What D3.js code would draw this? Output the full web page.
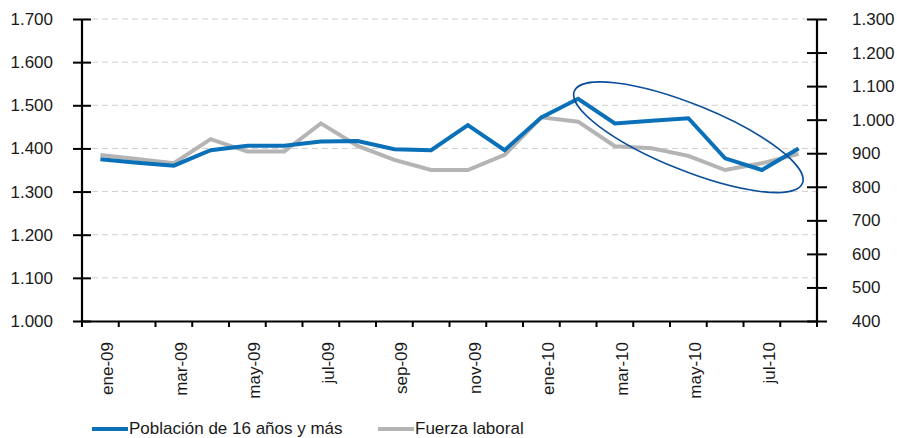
<!DOCTYPE html>
<html>
<head>
<meta charset="utf-8">
<script src="https://cdn.jsdelivr.net/npm/d3@7"></script>
<style>
  body { margin: 0; background: #fff; }
  svg text { font-family: "Liberation Sans", Arial, sans-serif; fill: #1a1a1a; }
</style>
</head>
<body>
<div id="chart"></div>
<script>
const months = ["ene-09","feb-09","mar-09","abr-09","may-09","jun-09","jul-09","ago-09","sep-09","oct-09","nov-09","dic-09",
                "ene-10","feb-10","mar-10","abr-10","may-10","jun-10","jul-10","ago-10"];
// Población de 16 años y más (eje izquierdo)
const poblacion = [1375, 1367, 1360, 1396, 1406, 1406, 1416, 1417, 1398, 1396, 1454, 1396,
                   1472, 1515, 1458, 1464, 1470, 1377, 1350, 1400];
// Fuerza laboral (eje derecho)
const fuerza = [895, 883, 870, 942, 905, 905, 989, 922, 880, 850, 850, 895,
                1007, 994, 921, 915, 892, 850, 870, 898];
const leftTicks = [1000, 1100, 1200, 1300, 1400, 1500, 1600, 1700];
const rightTicks = [400, 500, 600, 700, 800, 900, 1000, 1100, 1200, 1300];
const seriesNames = ["Población de 16 años y más", "Fuerza laboral"];
const colors = ["#0a70b8", "#b4b4b4"];

const W = 897, H = 438;
const m = { left: 82, right: 80, top: 19, bottom: 117 };

const loc = d3.formatLocale({ decimal: ",", thousands: ".", grouping: [3], currency: ["", ""] });
const fmt = loc.format(",d");

const svg = d3.select("#chart").append("svg").attr("width", W).attr("height", H);

const x = d3.scaleBand().domain(months).range([m.left, W - m.right]).padding(0);
const yL = d3.scaleLinear().domain([1000, 1700]).range([H - m.bottom, m.top]);
const yR = d3.scaleLinear().domain([400, 1300]).range([H - m.bottom, m.top]);

// dashed grid
svg.selectAll("line.grid")
  .data(leftTicks.slice(1))
  .enter()
  .append("line")
  .attr("x1", m.left)
  .attr("x2", W - m.right)
  .attr("y1", (d) => yL(d))
  .attr("y2", (d) => yL(d))
  .attr("stroke", "#cfcfcf")
  .attr("stroke-width", 1)
  .attr("stroke-dasharray", "6,4");

// lines
const lineL = d3.line().x((d, i) => x(months[i]) + x.bandwidth() / 2).y((d) => yL(d));
const lineR = d3.line().x((d, i) => x(months[i]) + x.bandwidth() / 2).y((d) => yR(d));

svg.append("path")
  .datum(fuerza)
  .attr("fill", "none")
  .attr("stroke", colors[1])
  .attr("stroke-width", 4)
  .attr("d", lineR);

svg.append("path")
  .datum(poblacion)
  .attr("fill", "none")
  .attr("stroke", colors[0])
  .attr("stroke-width", 4)
  .attr("d", lineL);

// annotation ellipse
const ecx = x("may-10") + x.bandwidth() / 2;
const ecy = yL(1426);
svg.append("ellipse")
  .attr("cx", ecx)
  .attr("cy", ecy)
  .attr("rx", 123)
  .attr("ry", 33)
  .attr("transform", `rotate(22, ${ecx}, ${ecy})`)
  .attr("fill", "none")
  .attr("stroke", "#0b4f9a")
  .attr("stroke-width", 1.6);

// axes
const gL = svg.append("g")
  .attr("transform", `translate(${m.left},0)`)
  .call(d3.axisLeft(yL).tickValues(leftTicks).tickFormat(fmt).tickSize(9).tickPadding(20));
gL.selectAll(".tick line").attr("x1", 9).attr("x2", -9);

const gR = svg.append("g")
  .attr("transform", `translate(${W - m.right},0)`)
  .call(d3.axisRight(yR).tickValues(rightTicks).tickFormat(fmt).tickSize(10).tickPadding(25));
gR.selectAll(".tick line").attr("x1", -10).attr("x2", 10);

const gB = svg.append("g")
  .attr("transform", `translate(0,${H - m.bottom})`)
  .call(d3.axisBottom(x).tickValues([]).tickSizeOuter(0));

// category boundary ticks
gB.selectAll("line.cat")
  .data(months.concat(["_end"]))
  .enter()
  .append("line")
  .attr("x1", (d, i) => m.left + i * x.bandwidth())
  .attr("x2", (d, i) => m.left + i * x.bandwidth())
  .attr("y1", 0)
  .attr("y2", 6)
  .attr("stroke", "#000")
  .attr("stroke-width", 2);

[gL, gR, gB].forEach((g) => {
  g.select(".domain").attr("stroke", "#000").attr("stroke-width", 2.2);
  g.selectAll(".tick line").attr("stroke", "#000").attr("stroke-width", 2);
  g.selectAll("text").style("font-size", "17px").attr("fill", "#1a1a1a");
});
gL.select(".domain").attr("d", `M0,${m.top}V${H - m.bottom}`);
gR.select(".domain").attr("d", `M0,${m.top}V${H - m.bottom}`);
gR.selectAll("text").attr("text-anchor", "start");

// x labels, every other month
svg.selectAll("text.xlab")
  .data(months.filter((d, i) => i % 2 === 0))
  .enter()
  .append("text")
  .attr("class", "xlab")
  .attr("transform", (d) => `translate(${x(d) + x.bandwidth() / 2 + 7},342) rotate(-90)`)
  .attr("text-anchor", "end")
  .attr("dy", "0.35em")
  .style("font-size", "17px")
  .text((d) => d);

// legend
const legX = [92, 378];
const leg = svg.selectAll("g.leg")
  .data(seriesNames)
  .enter()
  .append("g")
  .attr("transform", (d, i) => `translate(${legX[i]},429)`);
leg.append("line")
  .attr("x1", 0).attr("x2", 36)
  .attr("y1", 0).attr("y2", 0)
  .attr("stroke", (d, i) => colors[i])
  .attr("stroke-width", 4);
leg.append("text")
  .attr("x", 37)
  .attr("y", 5)
  .style("font-size", "17px")
  .text((d) => d);
</script>
</body>
</html>
